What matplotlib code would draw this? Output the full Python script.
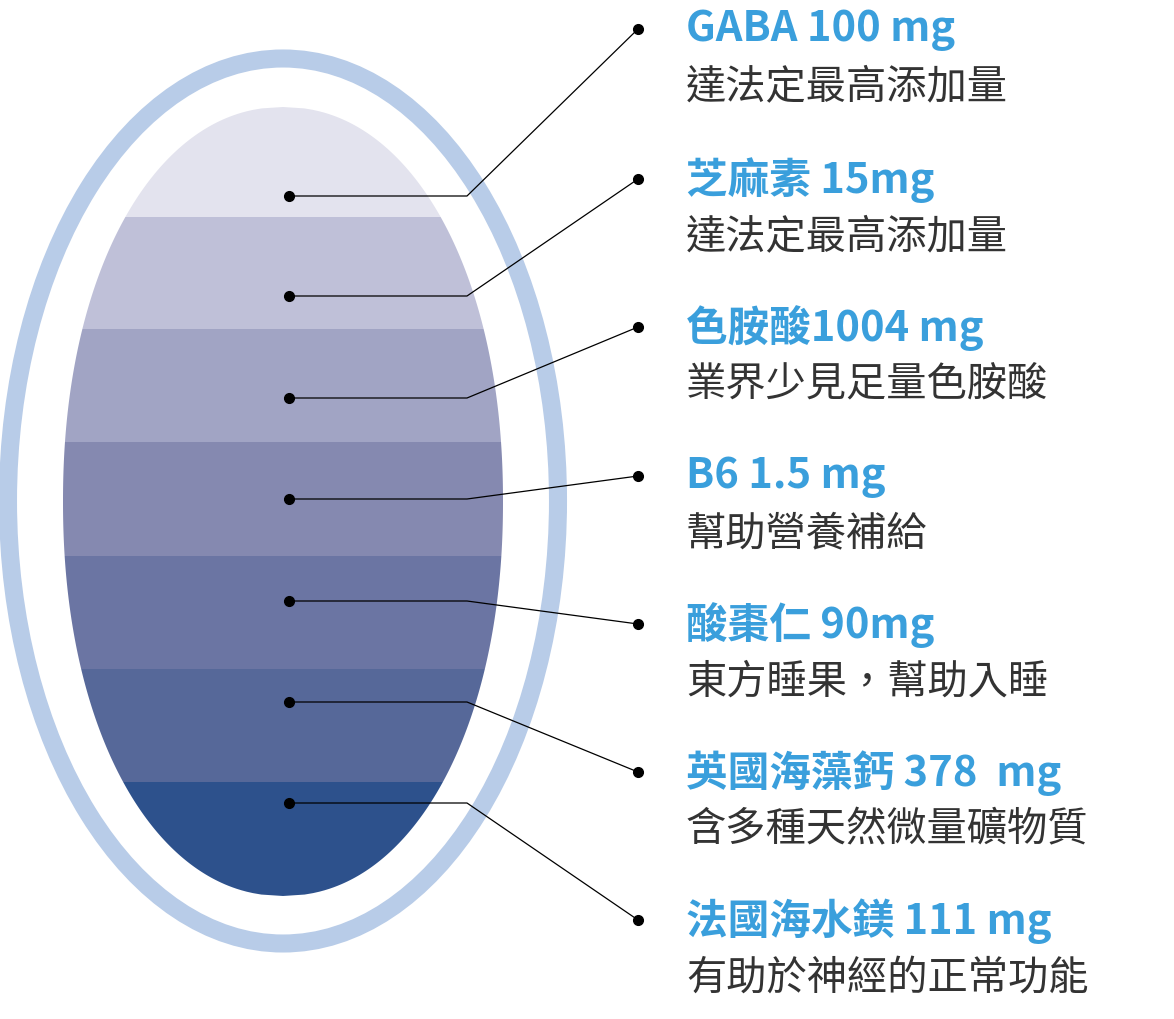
import numpy as np
import matplotlib.pyplot as plt
from matplotlib.patches import Polygon, Ellipse

plt.rcParams['font.family'] = ['Noto Sans CJK TC', 'DejaVu Sans']

titles = ['GABA 100 mg', '芝麻素 15mg', '色胺酸1004 mg', 'B6 1.5 mg',
          '酸棗仁 90mg', '英國海藻鈣 378  mg', '法國海水鎂 111 mg']
subs = ['達法定最高添加量', '達法定最高添加量', '業界少見足量色胺酸', '幫助營養補給',
        '東方睡果，幫助入睡', '含多種天然微量礦物質', '有助於神經的正常功能']
band_colors = ['#e3e3ee', '#bfc0d8', '#a1a4c4', '#8589b0', '#6b75a3', '#566899', '#2d518c']
band_edges = [108, 218, 330, 443, 557, 670, 783, 897]
dot_y = [197, 297, 399, 500, 602, 703, 804]
label_y = [30, 180, 328, 477, 625, 773, 921]

fig = plt.figure(figsize=(11.74, 10.2), dpi=100)
ax = fig.add_axes([0, 0, 1, 1])
ax.set_xlim(0, 1174)
ax.set_ylim(1020, 0)
ax.axis('off')

# outer ring
ax.add_patch(Ellipse((283, 502), 550, 885, fill=False, edgecolor='#b8cce8', lw=13))

# inner capsule bands
cx, yc, hh, hw = 283, 502.5, 394.5, 220
def half_w(y):
    u = np.clip(np.abs((y - yc) / hh), 0, 1)
    return hw * (1 - u ** 2.1) ** (1 / 2.1)

for i, c in enumerate(band_colors):
    ys = np.linspace(band_edges[i], band_edges[i + 1], 80)
    w = half_w(ys)
    pts = np.concatenate([np.column_stack([cx - w, ys]),
                          np.column_stack([cx + w, ys])[::-1]])
    ax.add_patch(Polygon(pts, closed=True, facecolor=c, edgecolor='none'))

# leader lines and labels
for dy, ly, t, s in zip(dot_y, label_y, titles, subs):
    ax.plot([289, 467, 638], [dy, dy, ly], color='black', lw=0.9)
    ax.plot(289, dy, 'o', color='black', ms=7)
    ax.plot(638, ly, 'o', color='black', ms=7)
    ax.text(686, ly, t, color='#3a9fdc', fontsize=30, fontweight='bold', va='center')
    ax.text(686, ly + 57, s, color='#333333', fontsize=29, va='center')

fig.savefig('out.png', dpi=100)
